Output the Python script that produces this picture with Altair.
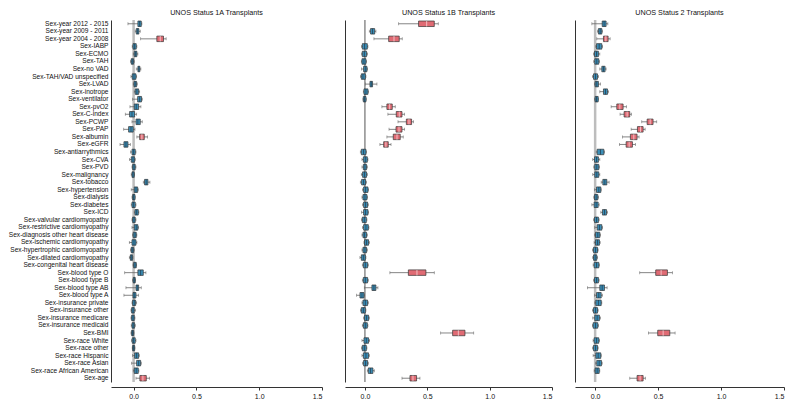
import altair as alt
import pandas as pd

labels = [
    "Sex-year 2012 - 2015", "Sex-year 2009 - 2011", "Sex-year 2004 - 2008",
    "Sex-IABP", "Sex-ECMO", "Sex-TAH", "Sex-no VAD", "Sex-TAH/VAD unspecified",
    "Sex-LVAD", "Sex-inotrope", "Sex-ventilator", "Sex-pvO2", "Sex-C-index",
    "Sex-PCWP", "Sex-PAP", "Sex-albumin", "Sex-eGFR", "Sex-antiarrythmics",
    "Sex-CVA", "Sex-PVD", "Sex-malignancy", "Sex-tobacco", "Sex-hypertension",
    "Sex-dialysis", "Sex-diabetes", "Sex-ICD", "Sex-valvular cardiomyopathy",
    "Sex-restrictive cardiomyopathy", "Sex-diagnosis other heart disease",
    "Sex-ischemic cardiomyopathy", "Sex-hypertrophic cardiomyopathy",
    "Sex-dilated cardiomyopathy", "Sex-congenital heart disease",
    "Sex-blood type O", "Sex-blood type  B", "Sex-blood type AB",
    "Sex-blood type A", "Sex-insurance private", "Sex-insurance other",
    "Sex-insurance medicare", "Sex-insurance medicaid", "Sex-BMI",
    "Sex-race White", "Sex-race other", "Sex-race Hispanic", "Sex-race Asian",
    "Sex-race African American", "Sex-age",
]

panel_titles = ["UNOS Status 1A Transplants", "UNOS Status 1B Transplants", "UNOS Status 2 Transplants"]

# ---- Status 1A ----
lo_1a = [-0.045, 0.013, 0.056, -0.011, -0.003, -0.024, 0.021, -0.021, -0.003, 0.005, -0.008, -0.029, -0.066, -0.013, -0.079, 0.026, -0.108, -0.024, -0.032, -0.013, -0.019, 0.077, -0.019, -0.013, -0.019, 0.005, -0.013, -0.013, -0.008, -0.034, -0.024, -0.034, -0.005, -0.071, -0.008, -0.061, -0.077, -0.013, -0.021, -0.021, -0.019, -0.021, -0.016, -0.011, -0.008, -0.016, -0.003, 0.019]
q1_1a = [0.034, 0.021, 0.185, -0.005, 0.005, -0.019, 0.034, -0.011, 0.003, 0.013, 0.032, 0.005, -0.032, 0.019, -0.040, 0.048, -0.077, -0.013, -0.019, -0.008, -0.013, 0.087, 0.005, -0.008, -0.013, 0.011, -0.008, 0.005, -0.003, -0.013, -0.019, -0.026, 0.000, 0.034, -0.003, 0.019, -0.005, -0.008, -0.016, -0.016, -0.013, -0.016, -0.011, -0.008, 0.008, 0.024, 0.005, 0.050]
med_1a = [0.048, 0.032, 0.212, 0.008, 0.016, -0.011, 0.042, 0.003, 0.013, 0.026, 0.048, 0.021, -0.013, 0.034, -0.021, 0.066, -0.061, 0.000, -0.005, 0.003, -0.005, 0.100, 0.019, 0.000, 0.000, 0.024, 0.003, 0.021, 0.011, 0.003, -0.011, -0.019, 0.011, 0.056, 0.005, 0.029, 0.005, 0.005, -0.005, -0.005, -0.003, -0.008, 0.000, 0.000, 0.024, 0.040, 0.021, 0.074]
q3_1a = [0.061, 0.042, 0.238, 0.021, 0.026, 0.000, 0.050, 0.019, 0.024, 0.040, 0.063, 0.040, 0.008, 0.053, -0.003, 0.085, -0.045, 0.013, 0.008, 0.013, 0.005, 0.114, 0.032, 0.011, 0.013, 0.037, 0.013, 0.034, 0.021, 0.019, 0.000, -0.008, 0.021, 0.077, 0.013, 0.040, 0.019, 0.016, 0.005, 0.005, 0.008, 0.000, 0.013, 0.008, 0.040, 0.056, 0.037, 0.101]
hi_1a = [0.066, 0.053, 0.259, 0.026, 0.034, 0.005, 0.058, 0.024, 0.029, 0.048, 0.069, 0.058, 0.024, 0.069, 0.011, 0.111, -0.026, 0.019, 0.013, 0.019, 0.008, 0.130, 0.037, 0.013, 0.019, 0.042, 0.019, 0.040, 0.026, 0.026, 0.005, -0.005, 0.024, 0.098, 0.016, 0.061, 0.040, 0.024, 0.016, 0.011, 0.013, 0.003, 0.019, 0.011, 0.045, 0.061, 0.042, 0.127]
sig_1a = [3, 16, 48]

# ---- Status 1B ----
lo_1b = [0.270, 0.035, 0.072, -0.027, -0.027, -0.029, -0.027, -0.035, 0.003, -0.013, -0.016, 0.136, 0.184, 0.265, 0.193, 0.176, 0.120, -0.037, -0.024, -0.024, -0.029, -0.037, -0.019, -0.024, -0.019, -0.027, -0.027, -0.019, -0.024, -0.008, -0.024, -0.040, -0.021, 0.200, -0.021, -0.005, -0.067, -0.024, -0.035, -0.011, -0.021, 0.607, -0.024, -0.027, -0.024, -0.019, 0.019, 0.297]
q1_1b = [0.430, 0.045, 0.190, -0.021, -0.021, -0.024, -0.011, -0.029, 0.040, -0.008, -0.013, 0.176, 0.251, 0.332, 0.249, 0.227, 0.150, -0.029, -0.013, -0.013, -0.019, -0.027, -0.011, -0.016, -0.011, -0.011, -0.021, -0.011, -0.016, -0.003, -0.016, -0.029, -0.013, 0.348, -0.013, 0.056, -0.040, -0.016, -0.029, -0.003, -0.013, 0.703, -0.008, -0.021, -0.013, -0.011, 0.027, 0.361]
med_1b = [0.495, 0.061, 0.233, -0.003, -0.005, -0.008, 0.003, -0.016, 0.051, 0.008, -0.003, 0.198, 0.275, 0.353, 0.273, 0.257, 0.168, -0.011, 0.003, 0.000, -0.003, -0.011, 0.005, 0.000, 0.005, 0.005, -0.005, 0.008, -0.003, 0.013, 0.000, -0.013, 0.003, 0.417, 0.003, 0.072, -0.024, 0.003, -0.013, 0.013, 0.003, 0.749, 0.011, -0.005, 0.008, 0.005, 0.045, 0.385]
q3_1b = [0.556, 0.078, 0.275, 0.019, 0.013, 0.008, 0.016, 0.003, 0.061, 0.024, 0.008, 0.219, 0.297, 0.374, 0.297, 0.283, 0.187, 0.008, 0.019, 0.013, 0.013, 0.005, 0.024, 0.016, 0.021, 0.024, 0.011, 0.027, 0.013, 0.029, 0.013, 0.003, 0.021, 0.489, 0.021, 0.088, -0.008, 0.021, 0.003, 0.029, 0.019, 0.802, 0.029, 0.011, 0.029, 0.021, 0.064, 0.414]
hi_1b = [0.588, 0.088, 0.299, 0.024, 0.021, 0.013, 0.021, 0.008, 0.096, 0.029, 0.011, 0.243, 0.318, 0.390, 0.318, 0.307, 0.209, 0.013, 0.024, 0.019, 0.019, 0.013, 0.029, 0.021, 0.027, 0.029, 0.016, 0.032, 0.019, 0.035, 0.019, 0.008, 0.027, 0.556, 0.027, 0.104, -0.003, 0.027, 0.008, 0.035, 0.024, 0.872, 0.037, 0.016, 0.035, 0.027, 0.075, 0.441]
sig_1b = [1, 3, 12, 13, 14, 15, 16, 17, 34, 42, 48]

# ---- Status 2 ----
lo_2 = [-0.026, 0.019, 0.013, 0.005, -0.013, -0.011, 0.037, -0.021, -0.005, 0.037, -0.005, 0.127, 0.198, 0.370, 0.286, 0.217, 0.193, 0.008, -0.019, -0.011, -0.019, 0.048, -0.005, -0.011, -0.026, 0.045, -0.013, -0.003, -0.005, -0.008, -0.021, -0.019, -0.016, 0.354, -0.013, -0.061, -0.005, -0.003, -0.021, -0.019, -0.021, 0.423, -0.016, -0.021, -0.016, 0.003, -0.008, 0.275]
q1_2 = [0.056, 0.026, 0.066, 0.011, -0.005, -0.003, 0.053, -0.013, 0.000, 0.066, 0.000, 0.172, 0.230, 0.413, 0.336, 0.280, 0.246, 0.016, -0.005, -0.003, -0.003, 0.061, 0.011, -0.005, -0.008, 0.058, -0.005, 0.016, 0.003, 0.003, -0.013, -0.013, -0.008, 0.481, -0.005, 0.037, 0.011, 0.005, -0.013, -0.003, -0.016, 0.497, -0.008, -0.013, 0.005, 0.013, 0.000, 0.333]
med_2 = [0.071, 0.040, 0.085, 0.032, 0.011, 0.013, 0.066, 0.003, 0.013, 0.082, 0.011, 0.196, 0.254, 0.437, 0.360, 0.307, 0.270, 0.042, 0.011, 0.013, 0.013, 0.077, 0.029, 0.008, 0.008, 0.074, 0.011, 0.034, 0.021, 0.019, 0.003, 0.000, 0.011, 0.524, 0.011, 0.056, 0.029, 0.026, 0.003, 0.016, 0.003, 0.540, 0.011, 0.003, 0.024, 0.032, 0.016, 0.357]
q3_2 = [0.087, 0.053, 0.103, 0.053, 0.026, 0.029, 0.079, 0.019, 0.026, 0.098, 0.024, 0.222, 0.275, 0.460, 0.381, 0.333, 0.296, 0.069, 0.026, 0.029, 0.029, 0.093, 0.045, 0.021, 0.024, 0.090, 0.026, 0.053, 0.037, 0.034, 0.019, 0.013, 0.029, 0.574, 0.026, 0.074, 0.048, 0.048, 0.019, 0.034, 0.021, 0.593, 0.029, 0.019, 0.045, 0.050, 0.032, 0.381]
hi_2 = [0.101, 0.058, 0.119, 0.058, 0.037, 0.034, 0.087, 0.026, 0.042, 0.106, 0.026, 0.249, 0.288, 0.489, 0.397, 0.349, 0.320, 0.074, 0.037, 0.034, 0.037, 0.111, 0.048, 0.026, 0.032, 0.098, 0.032, 0.058, 0.042, 0.040, 0.024, 0.019, 0.034, 0.614, 0.032, 0.095, 0.058, 0.053, 0.024, 0.042, 0.026, 0.635, 0.034, 0.024, 0.048, 0.056, 0.037, 0.399]
sig_2 = [3, 12, 13, 14, 15, 16, 17, 34, 42, 48]

x_ticks = [0.0, 0.5, 1.0, 1.5]

panels = [
    (panel_titles[0], lo_1a, q1_1a, med_1a, q3_1a, hi_1a, sig_1a, -0.18, "#bdbdbd", 2.5, 211, True),
    (panel_titles[1], lo_1b, q1_1b, med_1b, q3_1b, hi_1b, sig_1b, -0.16, "#555555", 1.0, 207, False),
    (panel_titles[2], lo_2, q1_2, med_2, q3_2, hi_2, sig_2, -0.16, "#bdbdbd", 2.5, 209, False),
]

BLUE = "#3b8fb8"
RED = "#e06b74"
FONT = "Liberation Sans"

charts = []
for title, lo, q1, med, q3, hi, sig, xmin, zcol, zw, w, show_labels in panels:
    df = pd.DataFrame({
        "label": labels, "lo": lo, "q1": q1, "med": med, "q3": q3, "hi": hi,
        "sig": [1 if (i + 1) in sig else 0 for i in range(len(labels))],
    })
    yenc = alt.Y(
        "label:N", sort=labels, title=None,
        scale=alt.Scale(type="band", paddingInner=0, paddingOuter=0),
        axis=alt.Axis(labels=show_labels, ticks=False, tickSize=0, labelPadding=3,
                      labelFontSize=6.6, labelFont=FONT, labelColor="#111",
                      domainColor="#333", domainWidth=1, labelLimit=200),
    )
    xscale = alt.Scale(domain=[xmin, 1.5], nice=False, zero=False)
    xaxis = alt.Axis(values=x_ticks, format=".1f", title=None, grid=False, offset=5,
                     labelFontSize=7, labelFont=FONT, labelColor="#111", tickSize=3,
                     tickColor="#333", domainColor="#333", domainWidth=1)
    base = alt.Chart(df)
    zero = alt.Chart(pd.DataFrame({"z": [0.0]})).mark_rule(color=zcol, strokeWidth=zw).encode(
        x=alt.X("z:Q", scale=xscale, axis=xaxis)
    )
    whisk = base.mark_rule(color="#666666", strokeWidth=0.8).encode(
        x=alt.X("lo:Q", scale=xscale, axis=xaxis), x2="hi:Q", y=yenc
    )
    cap_lo = base.mark_tick(color="#666666", size=3, thickness=0.8).encode(
        x=alt.X("lo:Q", scale=xscale, axis=xaxis), y=yenc
    )
    cap_hi = base.mark_tick(color="#666666", size=3, thickness=0.8).encode(
        x=alt.X("hi:Q", scale=xscale, axis=xaxis), y=yenc
    )
    box = base.mark_bar(size=5.5, stroke="#333333", strokeWidth=0.7).encode(
        x=alt.X("q1:Q", scale=xscale, axis=xaxis), x2="q3:Q", y=yenc,
        color=alt.Color("sig:N", scale=alt.Scale(domain=[0, 1], range=[BLUE, RED]), legend=None),
    )
    median = base.mark_tick(size=5.5, thickness=1).encode(
        x=alt.X("med:Q", scale=xscale, axis=xaxis), y=yenc,
        color=alt.Color("sig:N", scale=alt.Scale(domain=[0, 1], range=["#1e3345", "#fbe3e5"]), legend=None),
    )
    layer = alt.layer(zero, whisk, cap_lo, cap_hi, box, median).resolve_scale(color="independent").properties(
        width=w, height=362,
        title=alt.TitleParams(title, fontSize=7.2, font=FONT, fontWeight="normal", color="#111", offset=3),
    )
    charts.append(layer)

chart = alt.hconcat(*charts, spacing=22).properties(padding=0).configure_view(stroke=None)

chart.save("out.html", embed_options={"renderer": "svg", "actions": False})
